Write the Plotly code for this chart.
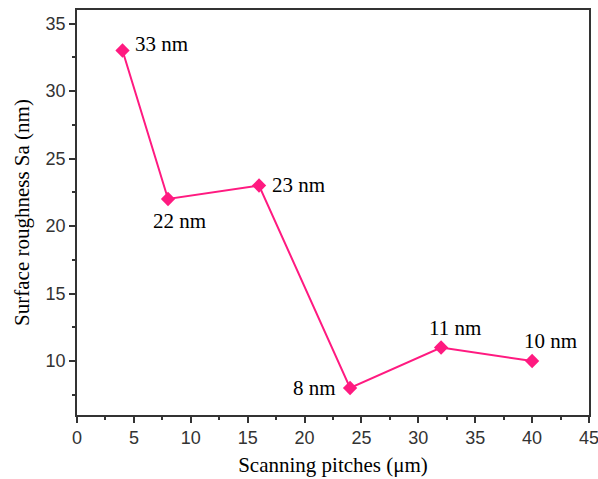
import plotly.graph_objects as go

pitch = [4, 8, 16, 24, 32, 40]
roughness = [33, 22, 23, 8, 11, 10]
labels = ["33 nm", "22 nm", "23 nm", "8 nm", "11 nm", "10 nm"]
# label placement (xanchor, yanchor, xshift, yshift)
placement = [
    ("left", "middle", 10, 7),
    ("left", "top", -17, -8),
    ("left", "middle", 11, 1),
    ("right", "middle", -12, 0),
    ("center", "bottom", 14, 6),
    ("center", "bottom", 18, 6),
]

color = "#FF1A80"
serif = "Liberation Serif, Times New Roman, serif"
sans = "Liberation Sans, Arial, sans-serif"

fig = go.Figure()
fig.add_trace(go.Scatter(
    x=pitch, y=roughness, mode="lines+markers",
    line=dict(color=color, width=2),
    marker=dict(symbol="diamond", size=11, color=color),
    showlegend=False,
))

for x, y, t, (xa, ya, xs, ys) in zip(pitch, roughness, labels, placement):
    fig.add_annotation(
        x=x, y=y, text=t, showarrow=False,
        xanchor=xa, yanchor=ya, xshift=xs, yshift=ys,
        font=dict(family=serif, size=21, color="black"),
    )

axis_common = dict(
    showgrid=False, zeroline=False, showline=True, linecolor="#333333", linewidth=1.5,
    mirror=True, ticks="outside", ticklen=6, tickwidth=1.5, tickcolor="#333333",
    tickfont=dict(family=sans, size=18, color="#333333"),
    automargin=False, ticklabeloverflow="allow",
)

fig.update_xaxes(
    range=[0, 45], tick0=0, dtick=5,
    minor=dict(ticks="outside", ticklen=3, tickwidth=1.5, tickcolor="#333333", dtick=2.5),
    title=dict(text="Scanning pitches (μm)", font=dict(family=serif, size=21, color="black"), standoff=10),
    **axis_common,
)
fig.update_yaxes(
    range=[6, 36], tick0=0, dtick=5,
    minor=dict(ticks="outside", ticklen=3, tickwidth=1.5, tickcolor="#333333", dtick=2.5),
    title=dict(text="Surface roughness Sa (nm)", font=dict(family=serif, size=21, color="black"), standoff=10),
    **axis_common,
)

fig.update_layout(
    width=598, height=479,
    margin=dict(l=77, r=9, t=10, b=64),
    plot_bgcolor="white", paper_bgcolor="white",
)

fig.write_html(
    "out.html",
    config={"displayModeBar": False},
    post_script="document.body.style.margin='0';document.body.style.overflow='hidden';",
)
